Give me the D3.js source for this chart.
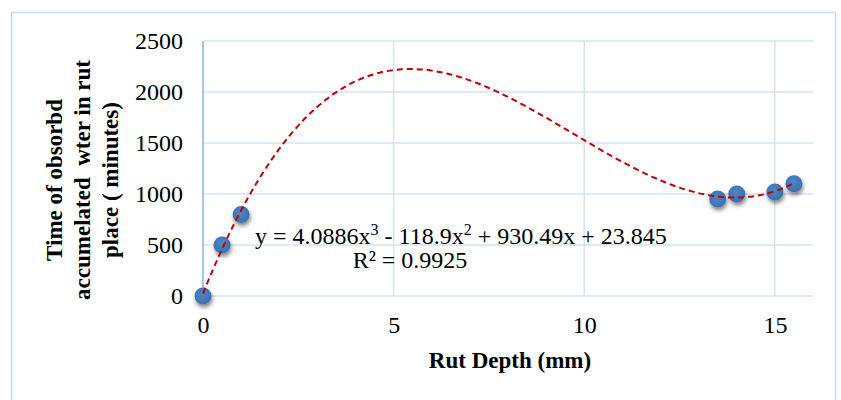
<!DOCTYPE html>
<html>
<head>
<meta charset="utf-8">
<script src="https://cdn.jsdelivr.net/npm/d3@7"></script>
<style>
  body { margin: 0; background: #fff; }
  text { font-family: "Liberation Serif", "Times New Roman", serif; }
</style>
</head>
<body>
<svg width="841" height="400"></svg>
<script>
// data
var rutDepth = [0, 0.5, 1, 13.5, 14, 15, 15.5];
var timeMinutes = [0, 500, 800, 950, 1000, 1020, 1100];
var xTicks = [0, 5, 10, 15];
var yTicks = [0, 500, 1000, 1500, 2000, 2500];
// polynomial trendline coefficients (shown on chart)
var coeffs = [23.845, 930.49, -118.9, 4.0886];
var yTitle = ["Time of obsorbd", "accumelated  wter in rut", "place ( minutes)"];

var svg = d3.select("svg");

// outer chart border
svg.append("rect")
   .attr("x", 11.5).attr("y", 12.5)
   .attr("width", 824).attr("height", 400)
   .attr("fill", "none")
   .attr("stroke", "#c9d9ef")
   .attr("stroke-width", 1.5);

var xScale = d3.scaleLinear().domain([0, 16]).range([203, 813]);
var yScale = d3.scaleLinear().domain([0, 2500]).range([296, 41]);

// gridlines
svg.append("g").selectAll("line")
   .data(yTicks).enter().append("line")
   .attr("x1", xScale(0)).attr("x2", xScale(16))
   .attr("y1", function(d){ return yScale(d); })
   .attr("y2", function(d){ return yScale(d); })
   .attr("stroke", "#d6e2f3").attr("stroke-width", 1.5);
svg.append("g").selectAll("line")
   .data(xTicks.slice(1)).enter().append("line")
   .attr("x1", function(d){ return xScale(d); })
   .attr("x2", function(d){ return xScale(d); })
   .attr("y1", yScale(0)).attr("y2", yScale(2500))
   .attr("stroke", "#d6e2f3").attr("stroke-width", 1.5);
// y axis line
svg.append("line")
   .attr("x1", xScale(0)).attr("x2", xScale(0))
   .attr("y1", yScale(0)).attr("y2", yScale(2500))
   .attr("stroke", "#a9c3e6").attr("stroke-width", 2);

// axes labels via d3 axes
var yAxis = svg.append("g")
   .attr("transform", "translate(" + (xScale(0) - 14) + ",0)")
   .call(d3.axisLeft(yScale).tickValues(yTicks).tickFormat(d3.format("d")).tickSize(0).tickPadding(6));
yAxis.select(".domain").remove();
yAxis.selectAll("text").attr("font-size", 24).attr("fill", "#000")
   .style("font-family", "Liberation Serif");

var xAxis = svg.append("g")
   .attr("transform", "translate(0," + (yScale(0) + 14) + ")")
   .call(d3.axisBottom(xScale).tickValues(xTicks).tickFormat(d3.format("d")).tickSize(0).tickPadding(6));
xAxis.select(".domain").remove();
xAxis.selectAll("text").attr("font-size", 24).attr("fill", "#000")
   .style("font-family", "Liberation Serif");

// titles
svg.append("text")
   .attr("x", 510).attr("y", 368)
   .attr("text-anchor", "middle")
   .attr("font-size", 23).attr("font-weight", "bold")
   .text("Rut Depth (mm)");

var yt = svg.append("text")
   .attr("transform", "translate(62,180) rotate(-90)")
   .attr("text-anchor", "middle")
   .attr("font-size", 23).attr("font-weight", "bold")
   .style("white-space", "pre");
yt.selectAll("tspan").data(yTitle).enter().append("tspan")
   .attr("x", 0)
   .attr("dy", function(d, i){ return i == 0 ? 0 : 28; })
   .text(function(d){ return d; });

// shadow filter
var defs = svg.append("defs");
var f = defs.append("filter").attr("id", "sh").attr("x", "-50%").attr("y", "-50%")
   .attr("width", "200%").attr("height", "200%");
f.append("feGaussianBlur").attr("in", "SourceAlpha").attr("stdDeviation", 2);
f.append("feOffset").attr("dx", 1).attr("dy", 3).attr("result", "ob");
f.append("feComponentTransfer").append("feFuncA").attr("type", "linear").attr("slope", 0.5);
var m = f.append("feMerge");
m.append("feMergeNode");
m.append("feMergeNode").attr("in", "SourceGraphic");

var grad = defs.append("radialGradient").attr("id", "pg")
   .attr("cx", "45%").attr("cy", "40%").attr("r", "60%");
grad.append("stop").attr("offset", "0%").attr("stop-color", "#4d86c8");
grad.append("stop").attr("offset", "100%").attr("stop-color", "#3a6fae");

var points = rutDepth.map(function(d, i){ return { x: d, y: timeMinutes[i] }; });

svg.append("g").selectAll("circle")
   .data(points).enter().append("circle")
   .attr("cx", function(d){ return xScale(d.x); })
   .attr("cy", function(d){ return yScale(d.y); })
   .attr("r", 8.5)
   .attr("fill", "url(#pg)")
   .attr("filter", "url(#sh)");

// trendline
var poly = function(x){ return coeffs[0] + coeffs[1]*x + coeffs[2]*x*x + coeffs[3]*x*x*x; };
var trendX = d3.range(0, 15.5001, 0.1);
var line = d3.line()
   .x(function(d){ return xScale(d); })
   .y(function(d){ return yScale(poly(d)); })
   .curve(d3.curveMonotoneX);
svg.append("path")
   .datum(trendX)
   .attr("d", line)
   .attr("fill", "none")
   .attr("stroke", "#c00000")
   .attr("stroke-width", 2)
   .attr("stroke-dasharray", "6,4");

// equation
var eq = svg.append("text")
   .attr("x", 255).attr("y", 244)
   .attr("font-size", 24);
eq.append("tspan").text("y = 4.0886x");
eq.append("tspan").attr("dy", -9).attr("font-size", 16).text("3");
eq.append("tspan").attr("dy", 9).text(" - 118.9x");
eq.append("tspan").attr("dy", -9).attr("font-size", 16).text("2");
eq.append("tspan").attr("dy", 9).text(" + 930.49x + 23.845");
svg.append("text")
   .attr("x", 410).attr("y", 268)
   .attr("text-anchor", "middle")
   .attr("font-size", 24)
   .text("R² = 0.9925");
</script>
</body>
</html>
